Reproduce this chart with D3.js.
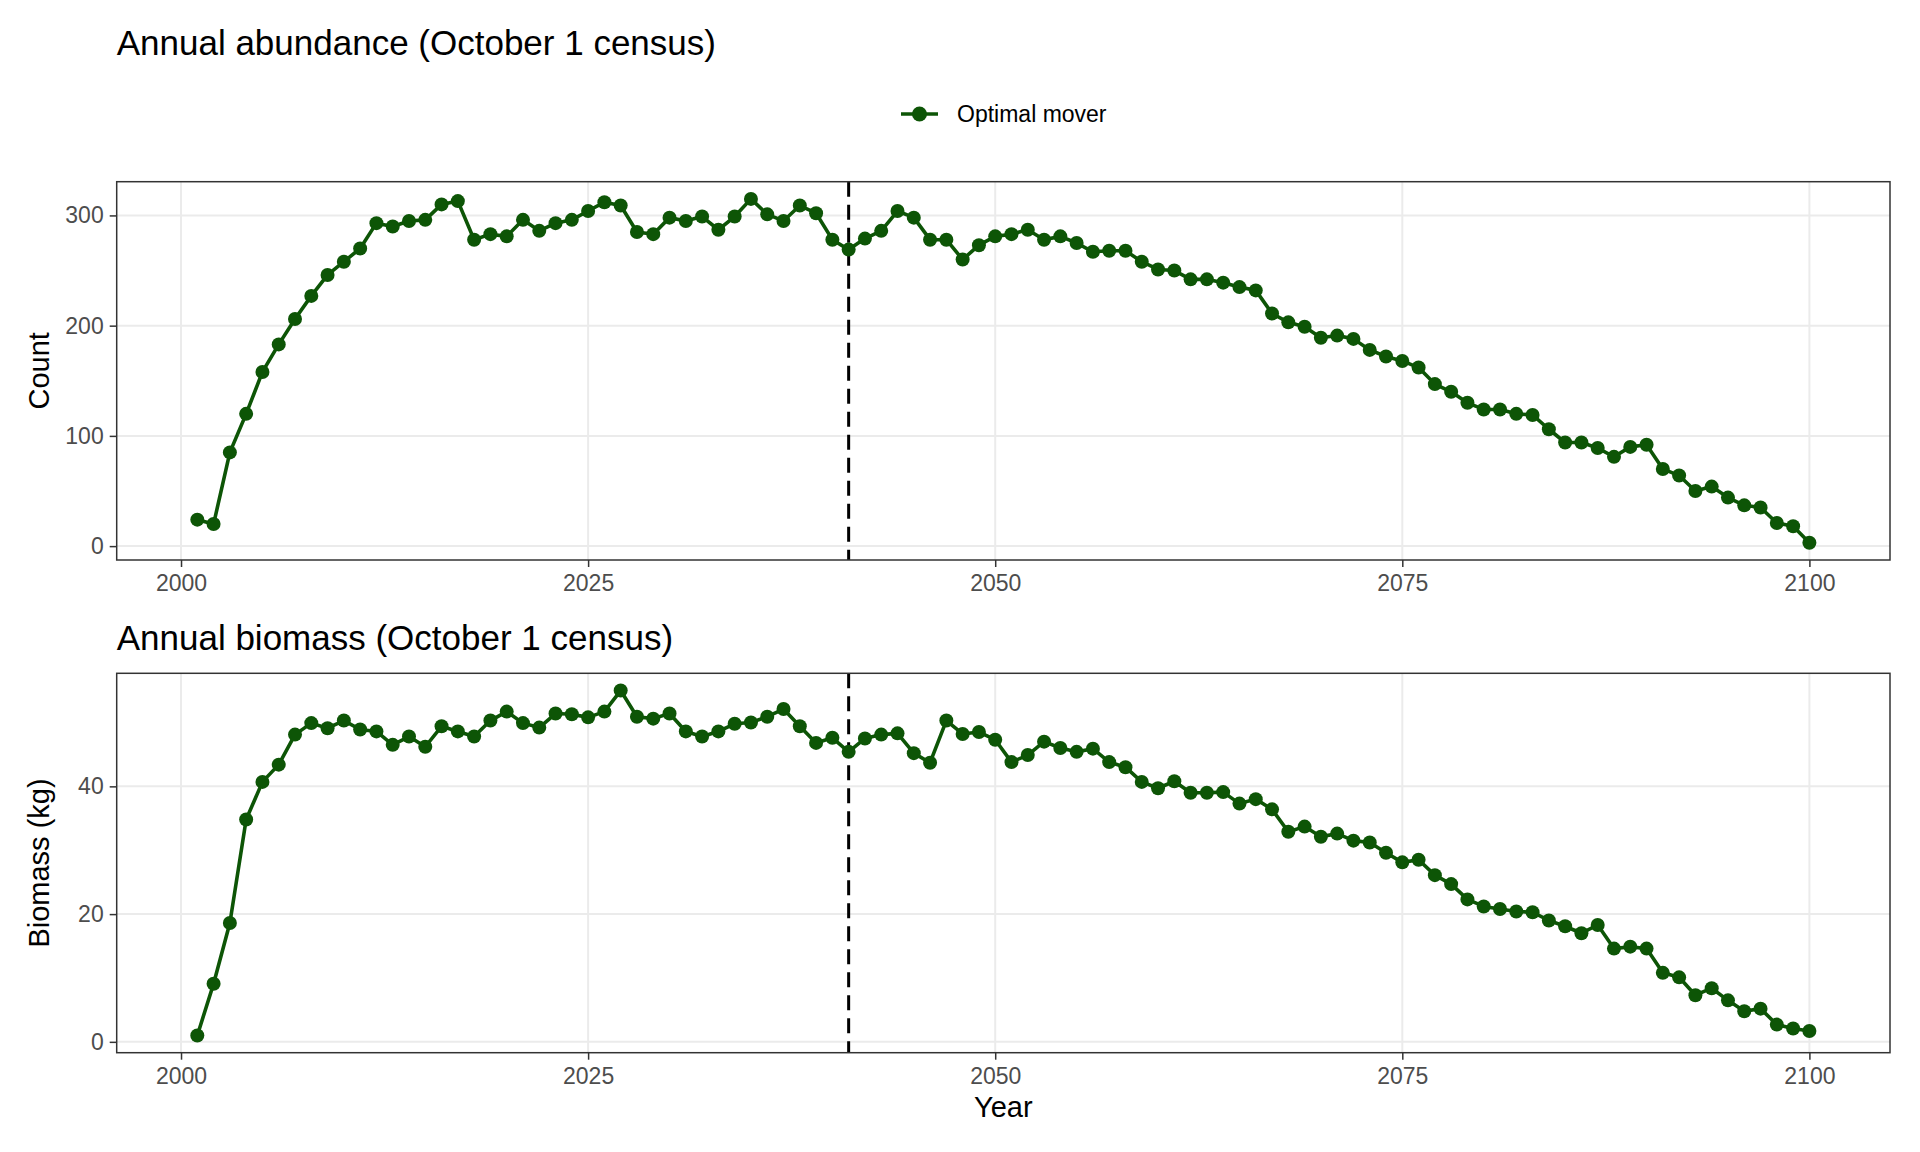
<!DOCTYPE html>
<html>
<head>
<meta charset="utf-8">
<script src="https://cdn.jsdelivr.net/npm/d3@7"></script>
<style>
  body { margin: 0; background: #fff; }
  svg { display: block; font-family: "Liberation Sans", Arial, Helvetica, sans-serif; }
</style>
</head>
<body>
<svg width="1920" height="1152"></svg>
<script>
// data, one value per year 2001-2100
var years = d3.range(2001, 2101);

var counts = [
  24, 20, 85, 120, 158, 183, 206, 227, 246, 258,
  270, 293, 290, 295, 296, 310, 313, 278, 283, 281,
  296, 286, 293, 296, 304, 312, 309, 285, 283, 298,
  295, 299, 287, 299, 315, 301, 295, 309, 302, 278,
  269, 279, 286, 304, 298, 278, 278, 260, 273, 281,
  283, 287, 278, 281, 275, 267, 268, 268, 258, 251,
  250, 242, 242, 239, 235, 232, 211, 203, 199, 189,
  191, 188, 178, 172, 168, 162, 147, 140, 130, 124,
  124, 120, 119, 106, 94, 94, 89, 81, 90, 92,
  70, 64, 50, 54, 44, 37, 35, 21, 18, 3
];

var biomass = [
  1.0, 9.1, 18.6, 34.8, 40.7, 43.4, 48.1, 49.9, 49.1, 50.3,
  48.9, 48.6, 46.5, 47.8, 46.2, 49.4, 48.6, 47.8, 50.3, 51.7,
  49.9, 49.2, 51.4, 51.3, 50.8, 51.7, 55.0, 50.9, 50.6, 51.4,
  48.6, 47.8, 48.6, 49.8, 50.0, 50.9, 52.1, 49.4, 46.8, 47.6,
  45.4, 47.5, 48.1, 48.3, 45.2, 43.7, 50.3, 48.2, 48.5, 47.3,
  43.8, 44.9, 47.0, 46.0, 45.4, 45.9, 43.8, 43.0, 40.7, 39.7,
  40.8, 39.0, 39.0, 39.1, 37.3, 38.0, 36.4, 32.9, 33.7, 32.1,
  32.6, 31.5, 31.2, 29.6, 28.1, 28.5, 26.1, 24.7, 22.3, 21.2,
  20.8, 20.4, 20.3, 19.0, 18.1, 17.0, 18.3, 14.6, 14.9, 14.6,
  10.8, 10.1, 7.3, 8.4, 6.5, 4.8, 5.2, 2.7, 2.1, 1.7
];

var xTicks = [2000, 2025, 2050, 2075, 2100];
var countTicks = [0, 100, 200, 300];
var biomassTicks = [0, 20, 40];
var markerYear = 2041;
var seriesName = "Optimal mover";

var svg = d3.select("svg"),
    left = 116.7,
    right = 1890,
    green = "#0d5506";

// ggplot-style 5% expansion
function expand(ext) {
  var pad = (ext[1] - ext[0]) * 0.05;
  return [ext[0] - pad, ext[1] + pad];
}

var x = d3.scaleLinear()
    .domain(expand(d3.extent(years)))
    .range([left, right]);

function panel(values, yTicks, top, bottom, titleY, title, ylabel) {
  var y = d3.scaleLinear()
      .domain(expand(d3.extent(values)))
      .range([bottom, top]);
  var g = svg.append("g");

  // title
  g.append("text")
      .attr("x", left)
      .attr("y", titleY)
      .attr("font-size", 35)
      .attr("fill", "#000")
      .text(title);

  // grid
  g.append("g").selectAll("line")
    .data(yTicks)
    .enter().append("line")
      .attr("x1", left).attr("x2", right)
      .attr("y1", function(d) { return y(d); })
      .attr("y2", function(d) { return y(d); })
      .attr("stroke", "#ebebeb")
      .attr("stroke-width", 2);
  g.append("g").selectAll("line")
    .data(xTicks)
    .enter().append("line")
      .attr("y1", top).attr("y2", bottom)
      .attr("x1", function(d) { return x(d); })
      .attr("x2", function(d) { return x(d); })
      .attr("stroke", "#ebebeb")
      .attr("stroke-width", 2);

  // dashed marker
  g.append("line")
      .attr("x1", x(markerYear)).attr("x2", x(markerYear))
      .attr("y1", top).attr("y2", bottom)
      .attr("stroke", "#000")
      .attr("stroke-width", 3)
      .attr("stroke-dasharray", "15,8");

  var pts = years.map(function(d, i) { return {year: d, value: values[i]}; });

  g.append("path")
      .datum(pts)
      .attr("fill", "none")
      .attr("stroke", green)
      .attr("stroke-width", 3.6)
      .attr("stroke-linejoin", "round")
      .attr("d", d3.line()
        .x(function(d) { return x(d.year); })
        .y(function(d) { return y(d.value); }));

  g.append("g").selectAll("circle")
    .data(pts)
    .enter().append("circle")
      .attr("cx", function(d) { return x(d.year); })
      .attr("cy", function(d) { return y(d.value); })
      .attr("r", 7)
      .attr("fill", green);

  // border
  g.append("rect")
      .attr("x", left).attr("y", top)
      .attr("width", right - left).attr("height", bottom - top)
      .attr("fill", "none")
      .attr("stroke", "#333")
      .attr("stroke-width", 1.5);

  // axes
  var ax = g.append("g")
      .attr("transform", "translate(0," + bottom + ")")
      .call(d3.axisBottom(x).tickValues(xTicks).tickFormat(d3.format("d")).tickSize(7).tickPadding(8));
  var ay = g.append("g")
      .attr("transform", "translate(" + left + ",0)")
      .call(d3.axisLeft(y).tickValues(yTicks).tickSize(7).tickPadding(6));
  [ax, ay].forEach(function(a) {
    a.select(".domain").remove();
    a.selectAll("line").attr("stroke", "#333").attr("stroke-width", 1.5);
    a.selectAll("text")
        .attr("fill", "#4d4d4d")
        .attr("font-size", 23)
        .attr("font-family", "Liberation Sans, Arial, sans-serif");
  });

  g.append("text")
      .attr("transform", "translate(49," + (top + bottom) / 2 + ") rotate(-90)")
      .attr("text-anchor", "middle")
      .attr("font-size", 29)
      .attr("fill", "#000")
      .text(ylabel);
}

panel(counts, countTicks, 181.7, 560, 55, "Annual abundance (October 1 census)", "Count");
panel(biomass, biomassTicks, 673.3, 1052.7, 650, "Annual biomass (October 1 census)", "Biomass (kg)");

svg.append("text")
    .attr("x", (left + right) / 2)
    .attr("y", 1116.5)
    .attr("text-anchor", "middle")
    .attr("font-size", 29)
    .attr("fill", "#000")
    .text("Year");

// legend
var legend = svg.append("g").attr("transform", "translate(901,114)");
legend.append("line")
    .attr("x1", 0).attr("x2", 37)
    .attr("stroke", green)
    .attr("stroke-width", 3.6);
legend.append("circle")
    .attr("cx", 18.5)
    .attr("r", 7.5)
    .attr("fill", green);
legend.append("text")
    .attr("x", 56)
    .attr("dy", "0.36em")
    .attr("font-size", 23)
    .attr("fill", "#000")
    .text(seriesName);
</script>
</body>
</html>
